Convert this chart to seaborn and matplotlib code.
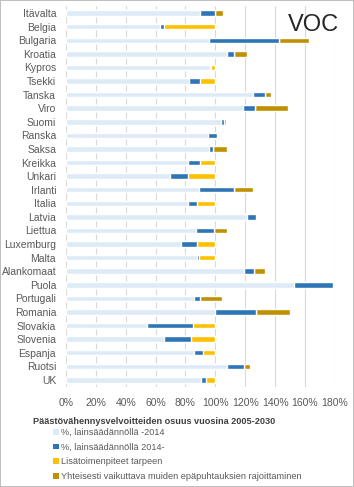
import pandas as pd
import matplotlib.pyplot as plt
from matplotlib.patches import Patch
from matplotlib.ticker import PercentFormatter
import seaborn as sns

#---------------------------------------------------------
countries=['Itävalta', 'Belgia', 'Bulgaria', 'Kroatia', 'Kypros', 'Tsekki', 'Tanska', 'Viro', 'Suomi',
	'Ranska', 'Saksa', 'Kreikka', 'Unkari', 'Irlanti', 'Italia', 'Latvia', 'Liettua', 'Luxemburg',
	'Malta', 'Alankomaat', 'Puola', 'Portugali', 'Romania', 'Slovakia', 'Slovenia', 'Espanja', 'Ruotsi', 'UK']
#segment widths, % of reduction obligation
laki_2014=[90, 63, 96, 107.5, 96.5, 82.5, 125.5, 118.5, 104, 95, 96, 82, 70, 89, 82, 121, 87, 77,
	87.5, 119, 152.5, 86, 99.5, 54, 65.5, 86, 107.5, 90.5]
laki_2014_jalk=[10, 2.5, 46.5, 5, 0.5, 7, 7.5, 8, 2, 6, 2.5, 8, 12, 23.5, 6, 6.5, 12, 10.5,
	1.5, 7, 26.5, 3.5, 27.5, 31, 18.5, 6, 12, 3]
lisatoimet=[0, 34.5, 0, 0, 3, 10.5, 0, 0, 0, 0, 0, 10, 18, 0, 12, 0, 0, 12.5,
	11, 0, 0, 0, 0, 15, 16, 8, 0, 6.5]
yhteis=[5, 0, 20.5, 9, 0, 0, 4, 22, 1, 1, 9, 0, 0, 13, 0, 0, 8.5, 0,
	0, 7.5, 0, 15, 23, 0, 0, 0, 3.5, 0]
l_lbl=['%, lainsäädännöllä -2014', '%, lainsäädännöllä 2014-',
	'Lisätoimenpiteet tarpeen', 'Yhteisesti vaikuttava muiden epäpuhtauksien rajoittaminen']
leg_title='Päästövähennysvelvoitteiden osuus vuosina 2005-2030'
cmap=['#DEEBF7', '#2E75B6', '#FFC000', '#BF9000']

#--------------------------------------------------------
df=pd.DataFrame({'maa':countries, 'a':laki_2014, 'b':laki_2014_jalk, 'c':lisatoimet, 'd':yhteis})
df['c1']=df['a']
df['c2']=df['c1']+df['b']
df['c3']=df['c2']+df['c']
df['c4']=df['c3']+df['d']

sns.set_style('white')
plt.rcParams['font.family']=['Liberation Sans', 'DejaVu Sans']

fig=plt.figure(figsize=(3.54, 4.87), dpi=100, edgecolor='#bfbfbf', linewidth=1.2)
ax=fig.add_axes([0.186, 0.206, 0.76, 0.781])

#stacked bars by overdrawing cumulative sums
for col, c in zip(['c4', 'c3', 'c2', 'c1'], cmap[::-1]):
	sns.barplot(data=df, x=col, y='maa', order=countries, orient='h', color=c,
		saturation=1, width=0.4, ax=ax, zorder=3)

#adjust
ax.set_xlim(0, 180)
ax.set_xticks(range(0, 181, 20))
ax.xaxis.set_major_formatter(PercentFormatter(100, decimals=0))
ax.set_xlabel('')
ax.set_ylabel('')
ax.xaxis.grid(True, color='#d9d9d9', lw=0.8)
ax.set_axisbelow(True)
for s in ax.spines.values():
	s.set_visible(False)
ax.tick_params(axis='x', length=0, pad=8, labelsize=7.5, labelcolor='#595959')
ax.tick_params(axis='y', length=0, pad=7, labelsize=7.5, labelcolor='#595959')
ax.set_ylim(len(countries)-0.5, -0.5)

fig.text(313/354, 1-25/487, 'VOC', ha='center', va='center', fontsize=17)

#legend
fig.text(33/354, 1-421/487, leg_title, ha='left', va='center', fontsize=6.6,
	weight='bold', color='#404040')
handles=[Patch(facecolor=c, edgecolor='none') for c in cmap]
fig.legend(handles, l_lbl, loc='upper left', bbox_to_anchor=(53/354, 1-428/487), frameon=False,
	fontsize=6.6, handlelength=0.6, handleheight=0.6, handletextpad=0.3, labelspacing=0.62,
	borderpad=0, borderaxespad=0, labelcolor='#595959')

plt.savefig('out.png', dpi=100)
plt.close()
